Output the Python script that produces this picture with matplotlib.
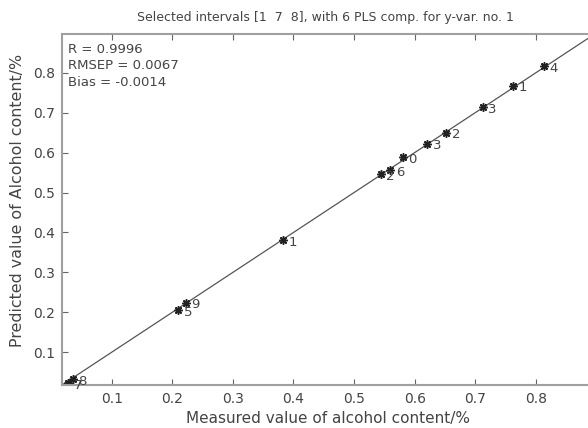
import matplotlib
matplotlib.use("Agg")
import matplotlib.pyplot as plt
import numpy as np

plt.rcParams['font.family'] = ['DejaVu Sans']

# measured vs predicted alcohol content
measured = [0.028, 0.036, 0.210, 0.222, 0.383, 0.544, 0.560, 0.580, 0.621, 0.652, 0.712, 0.762, 0.813]
predicted = [0.022, 0.032, 0.205, 0.224, 0.381, 0.546, 0.556, 0.588, 0.622, 0.650, 0.713, 0.767, 0.817]
labels = ['7', '8', '5', '9', '1', '2', '6', '0', '3', '2', '3', '1', '4']
ticks = [0.1, 0.2, 0.3, 0.4, 0.5, 0.6, 0.7, 0.8]
lims = [0.018, 0.897]
stats = ["R = 0.9996", "RMSEP = 0.0067", "Bias = -0.0014"]

txt = '#444444'
fig = plt.figure(figsize=(5.88, 4.28), dpi=100)
# axes runs a little past the right edge, like the cropped original
ax = fig.add_axes([0.1054, 0.1005, 0.906, 0.8201])

ax.plot(lims, lims, color='#555555', lw=0.9)
ax.plot(measured, predicted, linestyle='none', marker=(8, 2, 0), ms=6, mew=1.1, color='#222222')
for x, y, s in zip(measured, predicted, labels):
    ax.annotate(s, (x, y), xytext=(4, -1.5), textcoords='offset points',
                fontsize=9.5, color=txt, va='center')

ax.set_xlim(lims)
ax.set_ylim(lims)
ax.set_xticks(ticks)
ax.set_yticks(ticks)
ax.set_xticklabels([f"{t:g}" for t in ticks])
ax.set_yticklabels([f"{t:g}" for t in ticks])
ax.tick_params(direction='in', length=4, width=0.8, color='#666666',
               labelsize=10, labelcolor=txt, top=True, right=True, pad=5)
for sp in ax.spines.values():
    sp.set_color('#a0a0a0')
    sp.set_linewidth(1.5)

ax.text(0.012, 0.975, "\n".join(stats), transform=ax.transAxes, va='top', ha='left',
        fontsize=9.5, color=txt, linespacing=1.35)

ax.set_title("Selected intervals [1  7  8], with 6 PLS comp. for y-var. no. 1",
             fontsize=9, color=txt, pad=9, x=0.495)
ax.set_xlabel("Measured value of alcohol content/%", fontsize=11, color=txt)
ax.xaxis.set_label_coords(0.5, -0.075)
ax.set_ylabel("Predicted value of Alcohol content/%", fontsize=11.4, color=txt)
ax.yaxis.set_label_coords(-0.07, 0.525)

fig.savefig("out.png", dpi=100, facecolor='white')
